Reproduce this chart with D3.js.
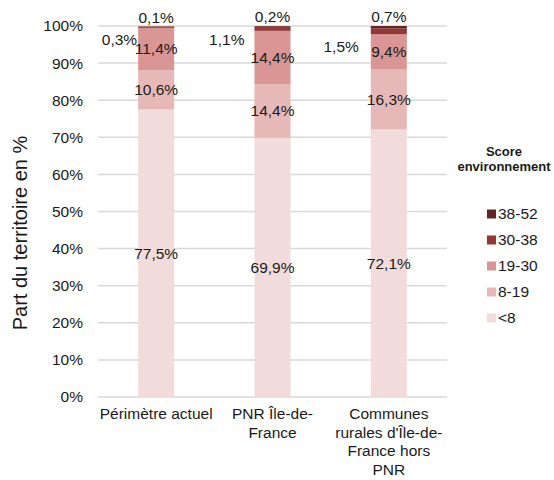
<!DOCTYPE html>
<html>
<head>
<meta charset="utf-8">
<script src="https://cdn.jsdelivr.net/npm/d3@7"></script>
<style>
  html, body { margin: 0; padding: 0; background: #fff; }
  svg { display: block; font-family: "Liberation Sans", Arial, sans-serif; }
</style>
</head>
<body>
<svg id="chart" width="554" height="480"></svg>
<script>
// ---- Data ----
const categories = ["Périmètre actuel", "PNR Île-de-France", "Communes rurales d'Île-de-France hors PNR"];
const categoryLines = [["Périmètre actuel"], ["PNR Île-de-", "France"], ["Communes", "rurales d'Île-de-", "France hors", "PNR"]];
const seriesNames = ["<8", "8-19", "19-30", "30-38", "38-52"];
const valsLt8   = [77.5, 69.9, 72.1];
const vals8_19  = [10.6, 14.4, 16.3];
const vals19_30 = [11.4, 14.4, 9.4];
const vals30_38 = [0.3, 1.1, 1.5];
const vals38_52 = [0.1, 0.2, 0.7];
const seriesColors = ["#f2dcdb", "#e6b9b8", "#d99694", "#953735", "#632523"];
const yTicks = [0, 10, 20, 30, 40, 50, 60, 70, 80, 90, 100];
const legendTitle = ["Score", "environnement"];
const yTitle = "Part du territoire en %";

// ---- Layout ----
const plot = { left: 98, right: 447, top: 26, bottom: 397 };
const fontSize = 15.5;
const leftLabelGap = [1, 10, 12];     // manual placement of the 30-38 labels
const leftLabelDy = [13, 13, 18];

const seriesValues = [valsLt8, vals8_19, vals19_30, vals30_38, vals38_52];
const table = categories.map((c, i) => {
  const row = { cat: c };
  seriesNames.forEach((s, k) => row[s] = seriesValues[k][i]);
  return row;
});
const stacked = d3.stack().keys(seriesNames)(table);

const svg = d3.select("#chart");
const x = d3.scaleBand().domain(categories).range([plot.left, plot.right])
  .paddingInner(0.69).paddingOuter(0.345);
const y = d3.scaleLinear().domain([0, 100]).range([plot.bottom, plot.top]);
const fmt = v => d3.format(".1f")(v).replace(".", ",") + "%";

// gridlines
svg.append("g").selectAll("line").data(yTicks).join("line")
  .attr("x1", plot.left).attr("x2", plot.right)
  .attr("y1", d => y(d)).attr("y2", d => y(d))
  .attr("stroke", "#d9d9d9").attr("stroke-width", 1.5);

// y axis labels
const yAxis = d3.axisLeft(y).tickValues(yTicks).tickSize(0).tickPadding(0)
  .tickFormat(d => d + "%");
const gy = svg.append("g").attr("transform", `translate(83,0)`).call(yAxis);
gy.select(".domain").remove();
gy.selectAll("text").attr("font-size", fontSize).attr("fill", "#1a1a1a")
  .attr("font-family", "Liberation Sans, Arial, sans-serif");

// y title
svg.append("text")
  .attr("transform", `translate(27,233) rotate(-90)`)
  .attr("text-anchor", "middle").attr("font-size", 20).attr("fill", "#1a1a1a")
  .text(yTitle);

// bars
const layers = svg.append("g").selectAll("g").data(stacked).join("g")
  .attr("fill", (d, k) => seriesColors[k]);
layers.selectAll("rect").data(d => d).join("rect")
  .attr("x", d => x(d.data.cat)).attr("width", x.bandwidth())
  .attr("y", d => y(d[1])).attr("height", d => y(d[0]) - y(d[1]));

// data labels
const labels = svg.append("g").attr("font-size", fontSize).attr("fill", "#1a1a1a");
stacked.forEach((layer, k) => {
  layer.forEach((d, i) => {
    const v = d[1] - d[0];
    const t = labels.append("text").text(fmt(v));
    if (k <= 2) {
      t.attr("x", x(d.data.cat) + x.bandwidth() / 2).attr("y", y((d[0] + d[1]) / 2))
        .attr("dy", "0.35em").attr("text-anchor", "middle");
    } else if (k === 3) {
      t.attr("x", x(d.data.cat) - leftLabelGap[i]).attr("y", y(d[1]) + leftLabelDy[i])
        .attr("dy", "0.35em").attr("text-anchor", "end");
    } else {
      t.attr("x", x(d.data.cat) + x.bandwidth() / 2).attr("y", y(d[1]) - 9)
        .attr("dy", "0.35em").attr("text-anchor", "middle");
    }
  });
});

// category labels
const catG = svg.append("g").attr("font-size", fontSize).attr("fill", "#1a1a1a");
categories.forEach((c, i) => {
  const t = catG.append("text").attr("text-anchor", "middle")
    .attr("x", x(c) + x.bandwidth() / 2).attr("y", 419);
  categoryLines[i].forEach((line, j) => {
    t.append("tspan").attr("x", x(c) + x.bandwidth() / 2)
      .attr("dy", j === 0 ? 0 : 18.7).text(line);
  });
});

// legend
const lg = svg.append("g");
lg.selectAll("text.title").data(legendTitle).join("text").attr("class", "title")
  .attr("x", 504).attr("y", (d, j) => 156 + j * 15)
  .attr("text-anchor", "middle").attr("font-size", 13).attr("font-weight", "bold")
  .attr("fill", "#1a1a1a").text(d => d);
const legendOrder = seriesNames.map((s, k) => k).reverse();
const items = lg.selectAll("g.item").data(legendOrder).join("g").attr("class", "item")
  .attr("transform", (k, j) => `translate(487,${214 + j * 26})`);
items.append("rect").attr("x", 0).attr("y", -4.5).attr("width", 9).attr("height", 9)
  .attr("fill", k => seriesColors[k]);
items.append("text").attr("x", 11).attr("y", 0).attr("dy", "0.35em")
  .attr("font-size", fontSize).attr("fill", "#1a1a1a").text(k => seriesNames[k]);
</script>
</body>
</html>
